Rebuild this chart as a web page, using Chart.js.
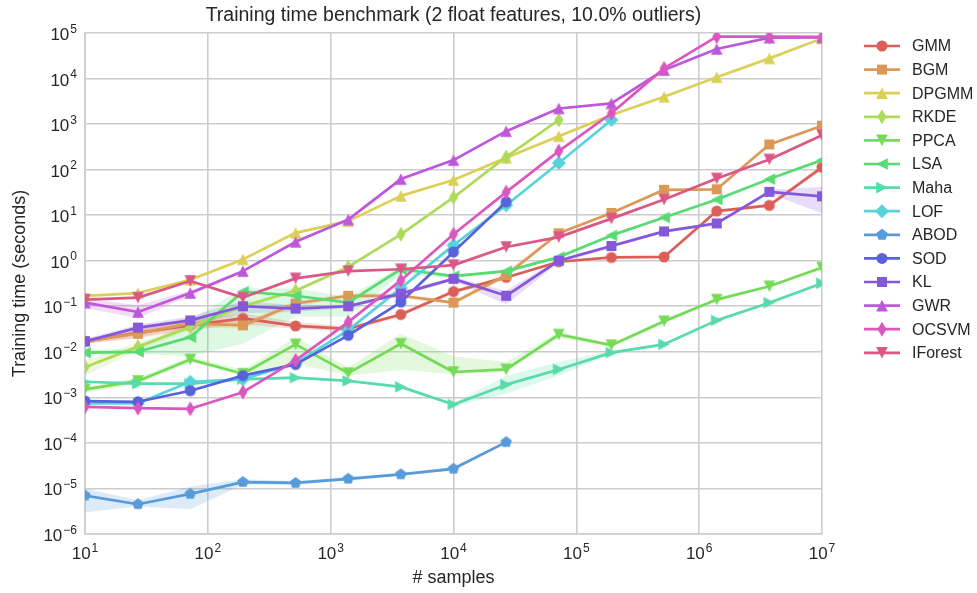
<!DOCTYPE html>
<html>
<head>
<meta charset="utf-8">
<script src="https://cdn.jsdelivr.net/npm/chart.js@4.4.1/dist/chart.umd.min.js"></script>
<style>
  html, body { margin: 0; padding: 0; background: #ffffff; }
</style>
</head>
<body>
<canvas id="myChart" width="977" height="593"></canvas>
<script>
// sample sizes on the x axis
var xSamples = [10, 27, 72, 193, 518, 1389, 3728, 10000, 26827, 71969, 193070, 517947, 1389495, 3727594, 10000000];
var xTicks = [1e1, 1e2, 1e3, 1e4, 1e5, 1e6, 1e7];
var yTicks = [1e-6, 1e-5, 1e-4, 1e-3, 1e-2, 1e-1, 1e0, 1e1, 1e2, 1e3, 1e4, 1e5];

// mean training time (seconds)
var gmmTime     = [0.017, 0.026, 0.038, 0.054, 0.037, 0.032, 0.066, 0.21, 0.43, 0.95, 1.18, 1.21, 12.3, 16.4, 113];
var bgmTime     = [0.017, 0.025, 0.042, 0.038, 0.115, 0.17, 0.17, 0.12, 0.48, 4.0, 11.2, 36, 37, 357, 920];
var dpgmmTime   = [0.17, 0.195, 0.38, 1.07, 4.1, 7.4, 26.5, 59, 182, 544, 1580, 3980, 10700, 27700, 76000];
var rkdeTime    = [0.0046, 0.013, 0.035, 0.1, 0.22, 0.73, 3.8, 24.5, 190, 1230];
var ppcaTime    = [0.0015, 0.0023, 0.0068, 0.0033, 0.0146, 0.0034, 0.015, 0.0036, 0.0041, 0.024, 0.014, 0.047, 0.14, 0.275, 0.71];
var lsaTime     = [0.0096, 0.010, 0.021, 0.21, 0.17, 0.12, 0.65, 0.46, 0.59, 1.2, 3.6, 8.9, 22, 62, 162];
var mahaTime    = [0.0022, 0.002, 0.002, 0.0025, 0.0027, 0.0023, 0.0017, 0.0007, 0.0019, 0.0041, 0.0096, 0.0146, 0.049, 0.12, 0.32];
var lofTime     = [0.00074, 0.00074, 0.0022, 0.0025, 0.0056, 0.03, 0.25, 2.2, 16.5, 140, 1230];
var abodTime    = [7e-6, 4.5e-6, 7.6e-6, 1.38e-5, 1.32e-5, 1.63e-5, 2.04e-5, 2.7e-5, 1.04e-4];
var sodTime     = [0.00083, 0.0008, 0.0014, 0.003, 0.0053, 0.023, 0.124, 1.56, 19.6];
var klTime      = [0.017, 0.034, 0.049, 0.10, 0.089, 0.10, 0.19, 0.40, 0.17, 1.0, 2.1, 4.4, 6.6, 32.5, 26];
var gwrTime     = [0.12, 0.075, 0.196, 0.59, 2.6, 8.0, 62, 162, 700, 2200, 2850, 15400, 44500, 79000, 80000];
var ocsvmTime   = [0.00062, 0.00058, 0.00056, 0.0013, 0.0065, 0.045, 0.37, 3.8, 32, 255, 1730, 16700, 83000, 83000, 82000];
var iforestTime = [0.14, 0.155, 0.36, 0.155, 0.41, 0.59, 0.65, 0.8, 2.0, 3.3, 8.4, 22, 64, 167, 570];

// confidence bands (low / high) where they show
var gmmLow   = [0.015, 0.02, 0.03, 0.04, 0.032, 0.027, 0.06, 0.19, 0.4, 0.9, 1.1, 1.15, 11.5, 15, 100];
var gmmHigh  = [0.019, 0.032, 0.05, 0.07, 0.045, 0.036, 0.072, 0.23, 0.46, 1.0, 1.25, 1.28, 13.2, 18, 125];
var bgmLow   = [0.015, 0.02, 0.035, 0.032, 0.1, 0.15, 0.15, 0.11, 0.4, 3.8, 10.8, 35, 36, 350, 900];
var bgmHigh  = [0.019, 0.03, 0.06, 0.045, 0.13, 0.19, 0.19, 0.13, 0.6, 4.2, 11.6, 37, 38, 365, 940];
var rkdeLow  = [0.003, 0.011, 0.03, 0.09, 0.2, 0.68, 3.6, 23, 180, 1200];
var rkdeHigh = [0.0065, 0.016, 0.04, 0.11, 0.24, 0.78, 4.0, 26, 200, 1260];
var ppcaLow  = [0.0013, 0.002, 0.006, 0.003, 0.0056, 0.003, 0.004, 0.0032, 0.0036, 0.02, 0.013, 0.042, 0.13, 0.26, 0.68];
var ppcaHigh = [0.0017, 0.0027, 0.008, 0.004, 0.021, 0.0045, 0.025, 0.008, 0.006, 0.028, 0.015, 0.052, 0.15, 0.29, 0.74];
var lsaLow   = [0.009, 0.009, 0.008, 0.015, 0.06, 0.06, 0.5, 0.42, 0.55, 1.1, 3.4, 8.6, 21, 60, 155];
var lsaHigh  = [0.011, 0.012, 0.05, 0.25, 0.25, 0.16, 0.75, 0.5, 0.63, 1.3, 3.8, 9.2, 23, 64, 170];
var mahaLow  = [0.0021, 0.0019, 0.0019, 0.0023, 0.0025, 0.0022, 0.0016, 0.00065, 0.0012, 0.003, 0.009, 0.014, 0.047, 0.115, 0.31];
var mahaHigh = [0.0023, 0.0021, 0.0021, 0.0027, 0.0029, 0.0024, 0.0018, 0.00075, 0.003, 0.006, 0.0105, 0.0152, 0.051, 0.125, 0.33];
var abodLow  = [3e-6, 4e-6, 3.5e-6, 1.2e-5, 1.2e-5, 1.5e-5, 1.9e-5, 2.5e-5, 1.0e-4];
var abodHigh = [1e-5, 5.5e-6, 1.1e-5, 1.6e-5, 1.45e-5, 1.8e-5, 2.2e-5, 3.0e-5, 1.08e-4];
var klLow    = [0.015, 0.028, 0.04, 0.07, 0.075, 0.09, 0.17, 0.36, 0.11, 0.9, 1.9, 4.1, 6.2, 30, 11];
var klHigh   = [0.019, 0.04, 0.06, 0.13, 0.105, 0.11, 0.21, 0.44, 0.22, 1.1, 2.3, 4.7, 7.0, 36, 42];
var gwrLow   = [0.09, 0.055, 0.17, 0.55, 2.4, 7.5, 58, 155, 680, 2100, 2800, 15000, 43000, 78000, 79000];
var gwrHigh  = [0.15, 0.105, 0.22, 0.63, 2.8, 8.5, 66, 170, 720, 2300, 2900, 15800, 46000, 80000, 81000];

var seriesNames = ['GMM', 'BGM', 'DPGMM', 'RKDE', 'PPCA', 'LSA', 'Maha', 'LOF', 'ABOD', 'SOD', 'KL', 'GWR', 'OCSVM', 'IForest'];
var seriesValues = [gmmTime, bgmTime, dpgmmTime, rkdeTime, ppcaTime, lsaTime, mahaTime, lofTime, abodTime, sodTime, klTime, gwrTime, ocsvmTime, iforestTime];
var seriesBands = {GMM: [gmmLow, gmmHigh], BGM: [bgmLow, bgmHigh], RKDE: [rkdeLow, rkdeHigh], PPCA: [ppcaLow, ppcaHigh],
                   LSA: [lsaLow, lsaHigh], Maha: [mahaLow, mahaHigh], ABOD: [abodLow, abodHigh], KL: [klLow, klHigh], GWR: [gwrLow, gwrHigh]};
var seriesColors = ['#db5f57', '#db9857', '#dbd057', '#addb57', '#75db57', '#57db72', '#57dbaa',
                    '#57d3db', '#579bdb', '#5762db', '#8557db', '#bd57db', '#db57c0', '#db5788'];
var seriesMarkers = ['circle', 'square', 'triUp', 'thinDiamond', 'triDown', 'triLeft', 'triRight',
                     'diamond', 'pentagon', 'circle', 'square', 'triUp', 'thinDiamond', 'triDown'];

var titleText = 'Training time benchmark (2 float features, 10.0% outliers)';
var FONT = '"Liberation Sans", Arial, sans-serif';
var TEXT = '#262626';

function rgba(hex, a) {
  var n = parseInt(hex.slice(1), 16);
  return 'rgba(' + (n >> 16) + ',' + ((n >> 8) & 255) + ',' + (n & 255) + ',' + a + ')';
}

function markerPath(ctx, shape, x, y) {
  var pts = null, i;
  ctx.beginPath();
  if (shape == 'circle') {
    ctx.arc(x, y, 5.5, 0, Math.PI * 2);
  } else if (shape == 'square') {
    ctx.rect(x - 5, y - 5, 10, 10);
  } else if (shape.indexOf('tri') == 0) {
    var rot = {triUp: 0, triRight: 90, triDown: 180, triLeft: 270}[shape] * Math.PI / 180;
    pts = [[0, -5.8], [-5.8, 5.8], [5.8, 5.8]].map(function(p) {
      return [p[0] * Math.cos(rot) - p[1] * Math.sin(rot), p[0] * Math.sin(rot) + p[1] * Math.cos(rot)];
    });
  } else if (shape == 'diamond') {
    pts = [[0, -7], [7, 0], [0, 7], [-7, 0]];
  } else if (shape == 'thinDiamond') {
    pts = [[0, -7.5], [4.5, 0], [0, 7.5], [-4.5, 0]];
  } else if (shape == 'pentagon') {
    pts = [];
    for (i = 0; i < 5; i++) {
      var ang = (-90 + 72 * i) * Math.PI / 180;
      pts.push([6 * Math.cos(ang), 6 * Math.sin(ang)]);
    }
  }
  if (pts) {
    ctx.moveTo(x + pts[0][0], y + pts[0][1]);
    for (i = 1; i < pts.length; i++) ctx.lineTo(x + pts[i][0], y + pts[i][1]);
    ctx.closePath();
  }
}

function markerCanvas(shape, color) {
  var c = document.createElement('canvas');
  c.width = 20; c.height = 20;
  var cx = c.getContext('2d');
  cx.fillStyle = color;
  markerPath(cx, shape, 10, 10);
  cx.fill();
  return c;
}

function toPoints(arr) {
  var out = [];
  for (var k = 0; k < arr.length; k++) out.push({x: xSamples[k], y: arr[k]});
  return out;
}

var datasets = [];
seriesNames.forEach(function(name, i) {
  var band = seriesBands[name];
  if (!band) return;
  datasets.push({label: name + ' high', data: toPoints(band[1]), borderWidth: 0, borderColor: 'rgba(0,0,0,0)',
                 pointRadius: 0, fill: false, order: 100});
  datasets.push({label: name + ' low', data: toPoints(band[0]), borderWidth: 0, borderColor: 'rgba(0,0,0,0)',
                 pointRadius: 0, fill: '-1', backgroundColor: rgba(seriesColors[i], 0.2), order: 100});
});
seriesNames.forEach(function(name, i) {
  datasets.push({
    label: name,
    data: toPoints(seriesValues[i]),
    borderColor: seriesColors[i],
    backgroundColor: seriesColors[i],
    borderWidth: 2.7,
    borderJoinStyle: 'round',
    pointStyle: markerCanvas(seriesMarkers[i], seriesColors[i]),
    pointRadius: 5,
    fill: false,
    tension: 0,
    order: 50 - i
  });
});

// superscript power of ten label
function drawPow(ctx, exp, x, baseY, align) {
  var sup = exp < 0 ? '\u2212' + (-exp) : String(exp);
  ctx.font = '17px ' + FONT;
  var wb = ctx.measureText('10').width;
  ctx.font = '12px ' + FONT;
  var ws = ctx.measureText(sup).width;
  var total = wb + 1 + ws;
  var left = align == 'right' ? x - total : x - total / 2;
  ctx.textAlign = 'left';
  ctx.textBaseline = 'alphabetic';
  ctx.font = '17px ' + FONT;
  ctx.fillText('10', left, baseY);
  ctx.font = '12px ' + FONT;
  ctx.fillText(sup, left + wb + 1, baseY - 7.5);
}

var textPlugin = {
  id: 'texts',
  afterDraw: function(chart) {
    var ctx = chart.ctx, a = chart.chartArea;
    var sx = chart.scales.x, sy = chart.scales.y;
    ctx.save();
    ctx.fillStyle = TEXT;

    ctx.font = '19.5px ' + FONT;
    ctx.textAlign = 'center';
    ctx.textBaseline = 'middle';
    ctx.fillText(titleText, (a.left + a.right) / 2, 16);

    xTicks.forEach(function(v) {
      drawPow(ctx, Math.round(Math.log10(v)), sx.getPixelForValue(v), a.bottom + 25, 'center');
    });
    yTicks.forEach(function(v) {
      drawPow(ctx, Math.round(Math.log10(v)), a.left - 8, sy.getPixelForValue(v) + 7, 'right');
    });

    ctx.font = '18px ' + FONT;
    ctx.textAlign = 'center';
    ctx.textBaseline = 'middle';
    ctx.fillText('# samples', (a.left + a.right) / 2, 578);
    ctx.save();
    ctx.translate(20, (a.top + a.bottom) / 2);
    ctx.rotate(-Math.PI / 2);
    ctx.fillText('Training time (seconds)', 0, 0);
    ctx.restore();

    // legend
    seriesNames.forEach(function(name, i) {
      var y = 46 + i * 23.6;
      var x0 = a.right + 42;
      ctx.strokeStyle = seriesColors[i];
      ctx.lineWidth = 2.7;
      ctx.beginPath();
      ctx.moveTo(x0, y);
      ctx.lineTo(x0 + 36, y);
      ctx.stroke();
      ctx.fillStyle = seriesColors[i];
      markerPath(ctx, seriesMarkers[i], x0 + 18, y);
      ctx.fill();
      ctx.fillStyle = TEXT;
      ctx.font = '16px ' + FONT;
      ctx.textAlign = 'left';
      ctx.textBaseline = 'middle';
      ctx.fillText(name, x0 + 48, y + 1);
    });
    ctx.restore();
  }
};

function axisOpts(ticks, min, max) {
  return {
    type: 'logarithmic',
    min: min,
    max: max,
    afterBuildTicks: function(axis) {
      axis.ticks = ticks.map(function(v) { return {value: v}; });
    },
    ticks: {display: false},
    grid: {color: '#cccccc', lineWidth: 1.6, drawTicks: false},
    border: {color: '#cccccc', width: 1.6}
  };
}

var ctx = document.getElementById('myChart').getContext('2d');
var myChart = new Chart(ctx, {
  type: 'line',
  data: {datasets: datasets},
  options: {
    responsive: false,
    animation: false,
    devicePixelRatio: 1,
    events: [],
    layout: {padding: {left: 85, right: 155, top: 33, bottom: 59}},
    plugins: {legend: {display: false}, title: {display: false}, tooltip: {enabled: false}},
    scales: {
      x: axisOpts(xTicks, 10, 1e7),
      y: axisOpts(yTicks, 1e-6, 1e5)
    }
  },
  plugins: [textPlugin]
});
</script>
</body>
</html>
